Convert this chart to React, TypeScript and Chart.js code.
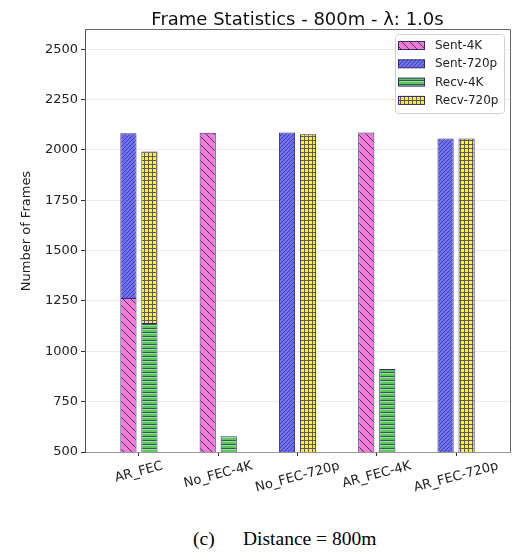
import React, { useEffect, useRef } from 'react';
import { Chart, registerables } from 'chart.js';

Chart.register(...registerables);

const categories = ['AR_FEC', 'No_FEC-4K', 'No_FEC-720p', 'AR_FEC-4K', 'AR_FEC-720p'];
const seriesLabels = ['Sent-4K', 'Sent-720p', 'Recv-4K', 'Recv-720p'];
const sent4K: (number | null)[] = [1265, 2085, null, 2086, null];
const sent720p: (number | null)[] = [818, null, 2086, null, 2057];
const recv4K: (number | null)[] = [1140, 578, null, 912, null];
const recv720p: (number | null)[] = [852, null, 2078, null, 2057];
const yTicks = [500, 750, 1000, 1250, 1500, 1750, 2000, 2250, 2500];
const titleText = 'Frame Statistics - 800m - λ: 1.0s';
const yTitle = 'Number of Frames';
const captionLabel = '(c)';
const captionText = 'Distance = 800m';

const FONT = '"DejaVu Sans", sans-serif';
const EDGE = '#2c2c6c';

function makePattern(kind: string): CanvasPattern {
  const c = document.createElement('canvas');
  const ctx = c.getContext('2d')!;
  if (kind === 'pink') {
    const s = 8;
    c.width = s; c.height = s;
    ctx.fillStyle = '#f27bd4';
    ctx.fillRect(0, 0, s, s);
    ctx.strokeStyle = '#4a2f78';
    ctx.lineWidth = 1;
    for (const k of [-s, 0, s]) {
      ctx.beginPath(); ctx.moveTo(k, 0); ctx.lineTo(k + s, s); ctx.stroke();
    }
  } else if (kind === 'blue') {
    const s = 4;
    c.width = s; c.height = s;
    ctx.fillStyle = '#7070f4';
    ctx.fillRect(0, 0, s, s);
    ctx.strokeStyle = '#33338a';
    ctx.lineWidth = 0.8;
    for (const k of [-s, 0, s]) {
      ctx.beginPath(); ctx.moveTo(k, s); ctx.lineTo(k + s, 0); ctx.stroke();
    }
  } else if (kind === 'green') {
    c.width = 4; c.height = 4;
    ctx.fillStyle = '#5fc65f';
    ctx.fillRect(0, 0, 4, 4);
    ctx.fillStyle = '#355a55';
    ctx.fillRect(0, 0, 4, 1);
    ctx.fillStyle = '#92e492';
    ctx.fillRect(0, 1, 4, 1);
  } else {
    c.width = 4; c.height = 4;
    ctx.fillStyle = '#ffff00';
    ctx.fillRect(0, 0, 4, 4);
    ctx.fillStyle = '#5a5a58';
    ctx.fillRect(0, 0, 4, 1);
    ctx.fillRect(0, 0, 1, 4);
  }
  return ctx.createPattern(c, 'repeat')!;
}

function toPoints(arr: (number | null)[]) {
  return arr.map((v, i) => ({ x: i, y: v }));
}

export default function App() {
  const ref = useRef<HTMLCanvasElement>(null);

  useEffect(() => {
    const pats = [makePattern('pink'), makePattern('blue'), makePattern('green'), makePattern('yellow')];
    const seriesData = [sent4K, sent720p, recv4K, recv720p];
    const stacks = ['sent', 'sent', 'recv', 'recv'];

    const decor = {
      id: 'decor',
      afterDraw(chart: any) {
        const ctx = chart.ctx as CanvasRenderingContext2D;
        const a = chart.chartArea;
        ctx.save();
        // top & right spines
        ctx.strokeStyle = '#666';
        ctx.lineWidth = 1;
        ctx.beginPath();
        ctx.moveTo(a.left, a.top + 0.5);
        ctx.lineTo(a.right + 0.5, a.top + 0.5);
        ctx.lineTo(a.right + 0.5, a.bottom);
        ctx.stroke();

        // title
        ctx.fillStyle = '#111';
        ctx.font = `18px ${FONT}`;
        ctx.textAlign = 'center';
        ctx.textBaseline = 'alphabetic';
        ctx.fillText(titleText, (a.left + a.right) / 2, 25);

        // y title
        ctx.save();
        ctx.translate(27, 231);
        ctx.rotate(-Math.PI / 2);
        ctx.font = `13px ${FONT}`;
        ctx.fillStyle = '#222';
        ctx.textBaseline = 'middle';
        ctx.textAlign = 'center';
        ctx.fillText(yTitle, 0, 0);
        ctx.restore();

        // x labels rotated 15deg, centered like matplotlib
        const xs = chart.scales.x;
        ctx.font = `13px ${FONT}`;
        ctx.fillStyle = '#222';
        const ang = (15 * Math.PI) / 180;
        categories.forEach((lab, i) => {
          const px = xs.getPixelForValue(i);
          const w = ctx.measureText(lab).width;
          const bh = w * Math.sin(ang) + 13 * Math.cos(ang);
          const cy = a.bottom + 7.5 + bh / 2;
          ctx.save();
          ctx.translate(px, cy);
          ctx.rotate(-ang);
          ctx.textAlign = 'center';
          ctx.textBaseline = 'middle';
          ctx.fillText(lab, 0, 0);
          ctx.restore();
        });

        // legend
        const lx = 395, ly = 34, lw = 109, lh = 79;
        ctx.fillStyle = 'rgba(255,255,255,0.85)';
        ctx.strokeStyle = '#d0d0d0';
        ctx.lineWidth = 1;
        ctx.beginPath();
        (ctx as any).roundRect(lx + 0.5, ly + 0.5, lw, lh, 3);
        ctx.fill();
        ctx.stroke();
        ctx.font = `12px ${FONT}`;
        ctx.textAlign = 'left';
        ctx.textBaseline = 'middle';
        seriesLabels.forEach((lab, i) => {
          const cy = 45.5 + i * 18.3;
          ctx.fillStyle = pats[i];
          ctx.fillRect(398.5, cy - 4, 26, 8);
          ctx.strokeStyle = EDGE;
          ctx.strokeRect(398.5, cy - 4, 26, 8);
          ctx.fillStyle = '#222';
          ctx.fillText(lab, 435, cy + 0.5);
        });
        ctx.restore();
      },
    };

    const chart = new Chart(ref.current!, {
      type: 'bar',
      data: {
        datasets: seriesLabels.map((lab, i) => ({
          label: lab,
          data: toPoints(seriesData[i]) as any,
          stack: stacks[i],
          backgroundColor: pats[i] as any,
          borderColor: EDGE,
          borderWidth: 1,
          categoryPercentage: 0.53,
          barPercentage: 0.77,
        })),
      },
      options: {
        responsive: false,
        animation: false,
        devicePixelRatio: 1,
        layout: { padding: { top: 29, right: 7, left: 0, bottom: 0 } },
        plugins: {
          legend: { display: false },
          title: { display: false },
          tooltip: { enabled: false },
        },
        scales: {
          x: {
            type: 'linear',
            min: -0.68,
            max: 4.68,
            offset: false,
            afterBuildTicks: (s: any) => {
              s.ticks = categories.map((_, i) => ({ value: i }));
            },
            afterFit: (s: any) => {
              s.height = 48;
            },
            ticks: { display: false },
            grid: { offset: false, drawOnChartArea: false, drawTicks: true, tickLength: 4, tickColor: '#333' },
            border: { display: true, color: '#999', width: 1 },
          },
          y: {
            type: 'linear',
            stacked: true,
            min: 500,
            max: 2600,
            afterBuildTicks: (s: any) => {
              s.ticks = yTicks.map((v) => ({ value: v }));
            },
            afterFit: (s: any) => {
              s.width = 85;
            },
            ticks: {
              color: '#222',
              padding: 3,
              font: { family: 'DejaVu Sans', size: 13 },
              callback: (v: any) => String(v),
            },
            grid: { color: '#ececec', tickLength: 4, tickColor: '#333', drawTicks: true },
            border: { display: true, color: '#555', width: 1 },
          },
        },
      } as any,
      plugins: [decor],
    });
    return () => chart.destroy();
  }, []);

  const capStyle: React.CSSProperties = {
    position: 'absolute',
    top: 529,
    fontFamily: '"Liberation Serif", "Times New Roman", serif',
    fontSize: '19.5px',
    lineHeight: 1,
    whiteSpace: 'pre',
    color: '#000',
  };

  return (
    <div style={{ position: 'absolute', left: 0, top: 0, width: 517, height: 554, background: '#fff' }}>
      <canvas
        ref={ref}
        width={517}
        height={500}
        style={{ position: 'absolute', left: 0, top: 0, width: 517, height: 500 }}
      />
      <div style={{ ...capStyle, left: 193 }}>{captionLabel}</div>
      <div style={{ ...capStyle, left: 243 }}>{captionText}</div>
    </div>
  );
}
